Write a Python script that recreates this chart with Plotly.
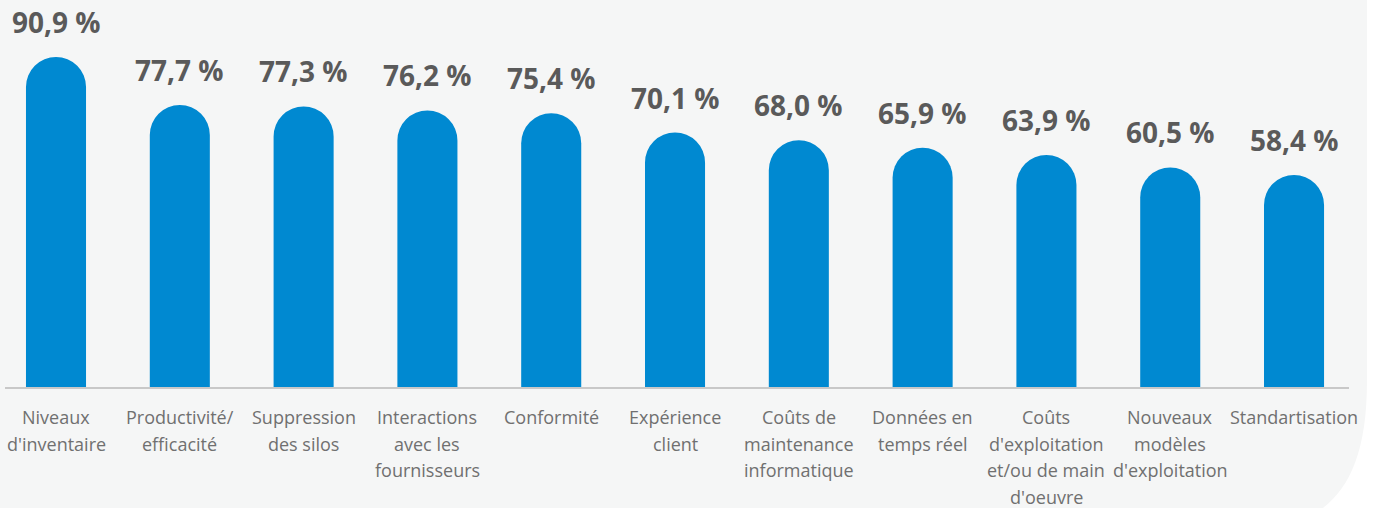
import plotly.graph_objects as go

categories = [
    "Niveaux<br>d'inventaire",
    "Productivité/<br>efficacité",
    "Suppression<br>des silos",
    "Interactions<br>avec les<br>fournisseurs",
    "Conformité",
    "Expérience<br>client",
    "Coûts de<br>maintenance<br>informatique",
    "Données en<br>temps réel",
    "Coûts<br>d'exploitation<br>et/ou de main<br>d'oeuvre",
    "Nouveaux<br>modèles<br>d'exploitation",
    "Standartisation",
]
values = [90.9, 77.7, 77.3, 76.2, 75.4, 70.1, 68.0, 65.9, 63.9, 60.5, 58.4]

BLUE = "#0089d1"
LABEL = "#5a5a5a"
CAT = "#707070"
BG = "#f5f6f6"
FONT = "Open Sans"

W, H = 1377, 508
ML, MR, MT, MB = 5, 28, 20, 121
PW, PH = W - ML - MR, H - MT - MB


def px(x, y):
    # pixel -> paper coords (for the background panel only)
    return (x - ML) / PW, (H - MB - y) / PH


def fmt(v):
    return f"{v:.1f}".replace(".", ",") + " %"


xs = list(range(len(categories)))

fig = go.Figure(go.Bar(
    x=xs, y=values,
    width=0.485,
    marker=dict(color=BLUE, cornerradius=30, line=dict(width=0)),
    hoverinfo="skip",
))

annotations = []
for i, v in enumerate(values):
    annotations.append(dict(
        x=i, y=v, xref="x", yref="y", text=fmt(v), showarrow=False,
        yanchor="middle", yshift=35,
        font=dict(family=FONT, size=28, color=LABEL, weight="bold"),
    ))
    for j, line in enumerate(categories[i].split("<br>")):
        annotations.append(dict(
            x=i, y=0, xref="x", yref="y", text=line, showarrow=False,
            yanchor="middle", yshift=-30 - 26.5 * j,
            font=dict(family=FONT, size=18, color=CAT),
        ))

# background panel with rounded lower-right corner
p = [px(-5, -5), px(1367, -5), px(1367, 380), px(1367, 455), px(1348, 492),
     px(1316, 513), px(-5, 513)]
path = (f"M {p[0][0]},{p[0][1]} L {p[1][0]},{p[1][1]} L {p[2][0]},{p[2][1]} "
        f"C {p[3][0]},{p[3][1]} {p[4][0]},{p[4][1]} {p[5][0]},{p[5][1]} "
        f"L {p[6][0]},{p[6][1]} Z")

fig.update_layout(
    width=W, height=H,
    margin=dict(l=ML, r=MR, t=MT, b=MB),
    paper_bgcolor="white", plot_bgcolor="rgba(0,0,0,0)",
    showlegend=False,
    shapes=[dict(type="path", path=path, xref="paper", yref="paper",
                 fillcolor=BG, line=dict(width=0), layer="below")],
    annotations=annotations,
    xaxis=dict(range=[-0.412, 10.444], showticklabels=False, ticks="",
               showgrid=False, zeroline=False, showline=True,
               linecolor="#c8c8c8", linewidth=2),
    yaxis=dict(range=[0, PH / 3.63], visible=False, showgrid=False),
)

fig.write_html("out.html", config={"displayModeBar": False},
               post_script="document.body.style.margin='0';")
